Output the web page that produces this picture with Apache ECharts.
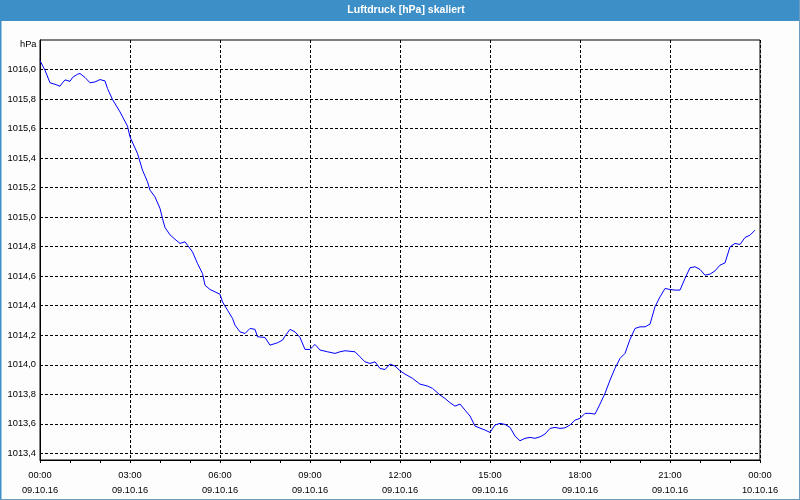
<!DOCTYPE html>
<html>
<head>
<meta charset="utf-8">
<script src="https://cdn.jsdelivr.net/npm/echarts@6/dist/echarts.min.js"></script>
<style>
html,body{margin:0;padding:0;background:#fcfdfc;}
#chart{width:800px;height:500px;}
</style>
</head>
<body>
<div id="chart"></div>
<script>
// ---- data ----
const times = ["00:00","00:10","00:20","00:30","00:40","00:45","00:50","01:00","01:05","01:15","01:20","01:30","01:40","01:50","02:00","02:10","02:15","02:25","02:40","02:55","03:00","03:15","03:25","03:35","03:40","03:50","04:00","04:05","04:10","04:20","04:30","04:40","04:50","04:55","05:05","05:15","05:25","05:30","05:40","05:50","06:00","06:05","06:15","06:25","06:30","06:40","06:50","07:00","07:10","07:15","07:30","07:40","07:55","08:05","08:10","08:20","08:30","08:40","08:50","09:00","09:05","09:10","09:20","09:35","09:50","10:00","10:10","10:30","10:40","10:50","11:00","11:10","11:20","11:30","11:40","11:50","12:00","12:10","12:25","12:40","12:55","13:05","13:20","13:30","13:40","13:50","14:00","14:10","14:20","14:30","14:40","14:50","15:00","15:10","15:20","15:30","15:40","15:50","16:00","16:10","16:20","16:30","16:40","16:50","17:00","17:10","17:20","17:30","17:40","17:50","18:00","18:10","18:20","18:30","18:40","18:50","19:00","19:10","19:20","19:30","19:40","19:50","20:00","20:10","20:20","20:30","20:40","20:50","21:00","21:10","21:20","21:30","21:40","21:50","22:00","22:10","22:20","22:30","22:40","22:50","23:00","23:10","23:20","23:30","23:40","23:50"];
const pressure = [1016.06,1015.995,1015.91,1015.90,1015.887,1015.91,1015.93,1015.92,1015.946,1015.968,1015.973,1015.946,1015.91,1015.916,1015.932,1015.923,1015.871,1015.797,1015.713,1015.616,1015.544,1015.431,1015.318,1015.239,1015.183,1015.137,1015.059,1014.99,1014.93,1014.88,1014.85,1014.822,1014.833,1014.81,1014.765,1014.686,1014.618,1014.539,1014.51,1014.494,1014.478,1014.426,1014.37,1014.314,1014.268,1014.223,1014.212,1014.246,1014.24,1014.19,1014.185,1014.133,1014.149,1014.167,1014.194,1014.24,1014.223,1014.185,1014.104,1014.104,1014.122,1014.138,1014.1,1014.088,1014.077,1014.088,1014.095,1014.088,1014.054,1014.02,1014.009,1014.02,1013.975,1013.968,1014.005,1013.991,1013.96,1013.937,1013.908,1013.869,1013.856,1013.84,1013.795,1013.772,1013.743,1013.72,1013.734,1013.693,1013.653,1013.585,1013.571,1013.558,1013.542,1013.592,1013.603,1013.596,1013.576,1013.517,1013.485,1013.502,1013.508,1013.502,1013.512,1013.531,1013.569,1013.576,1013.569,1013.573,1013.592,1013.625,1013.637,1013.671,1013.671,1013.666,1013.734,1013.806,1013.896,1013.976,1014.043,1014.077,1014.172,1014.246,1014.257,1014.257,1014.275,1014.393,1014.46,1014.517,1014.51,1014.506,1014.506,1014.585,1014.657,1014.664,1014.646,1014.607,1014.614,1014.636,1014.675,1014.69,1014.799,1014.822,1014.815,1014.862,1014.878,1014.912];
const yTicks = [1013.4,1013.6,1013.8,1014.0,1014.2,1014.4,1014.6,1014.8,1015.0,1015.2,1015.4,1015.6,1015.8,1016.0];
const dateLabels = ["09.10.16","10.10.16"];
const titleText = "Luftdruck [hPa] skaliert";
const unitText = "hPa";

// ---- build ----
function toHours(s){const p=s.split(":");return +p[0]+ +p[1]/60;}
const seriesData = times.map((t,i)=>[toHours(t), pressure[i]]);
const FONT = '"Liberation Sans", Arial, sans-serif';
const BLUE = '#3d8fc7';

const chart = echarts.init(document.getElementById('chart'), null, {renderer:'canvas'});
chart.setOption({
  backgroundColor:'#fcfdfc',
  animation:false,
  grid:{left:40,right:40,top:40,bottom:40,show:true,borderColor:'#000',borderWidth:1,backgroundColor:'transparent'},
  xAxis:{
    type:'value',min:0,max:24,interval:3,
    axisLine:{show:true,lineStyle:{color:'#000',width:1}},
    axisTick:{show:true,length:3,lineStyle:{color:'#000'}},
    minorTick:{show:true,splitNumber:3,length:3,lineStyle:{color:'#000'}},
    splitLine:{show:true,lineStyle:{color:'#000',type:[3,2],width:1}},
    axisLabel:{
      margin:8,fontFamily:FONT,fontSize:9.3,color:'#000',lineHeight:15,
      formatter:function(v){
        const h = v % 24;
        const d = v >= 24 ? dateLabels[1] : dateLabels[0];
        return (h<10?'0':'')+h+':00\n'+d;
      }
    }
  },
  yAxis:{
    type:'value',min:1013.355,max:1016.2,
    axisLine:{show:true,lineStyle:{color:'#000',width:1}},
    axisTick:{show:false,customValues:yTicks},
    splitLine:{show:true,lineStyle:{color:'#000',type:[3,2],width:1}},
    axisLabel:{
      customValues:yTicks,margin:4,fontFamily:FONT,fontSize:9.3,color:'#000',
      formatter:function(v){return v.toFixed(1).replace('.',',');}
    }
  },
  series:[{
    type:'line',data:seriesData,showSymbol:false,symbol:'none',
    lineStyle:{color:'#0000ff',width:1},itemStyle:{color:'#0000ff'}
  }],
  graphic:[
    {type:'rect',x:0,y:0,shape:{x:0,y:0,width:800,height:21},style:{fill:BLUE},silent:true},
    {type:'rect',x:0,y:0,shape:{x:0,y:0,width:1.5,height:500},style:{fill:BLUE},silent:true},
    {type:'rect',x:0,y:0,shape:{x:799,y:0,width:1,height:500},style:{fill:'#6a9cc0'},silent:true},
    {type:'rect',x:0,y:0,shape:{x:0,y:499,width:800,height:1},style:{fill:'#6a9cc0'},silent:true},
    {type:'text',x:406,y:10,style:{text:titleText,fill:'#fff',font:'bold 10.5px '+FONT,textAlign:'center',textVerticalAlign:'middle'},silent:true},
    {type:'text',x:36.5,y:44.5,style:{text:unitText,fill:'#000',font:'9.3px '+FONT,textAlign:'right',textVerticalAlign:'middle'},silent:true}
  ]
});
</script>
</body>
</html>
